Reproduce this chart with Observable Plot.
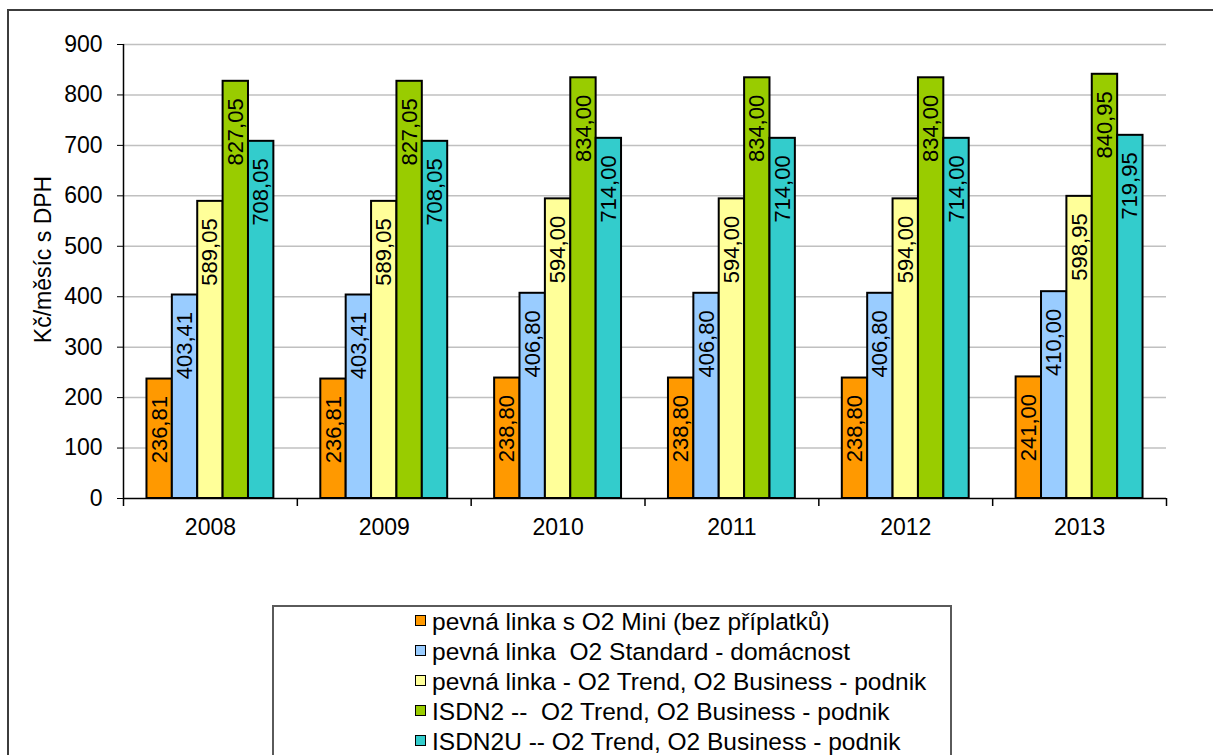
<!DOCTYPE html>
<html><head><meta charset="utf-8">
<script src="https://cdn.jsdelivr.net/npm/d3@7"></script>
<script src="https://cdn.jsdelivr.net/npm/@observablehq/plot@0.6"></script>
<style>
body{margin:0;background:#fff;font-family:"Liberation Sans",Arial,sans-serif;}
#wrap{position:relative;width:1213px;height:755px;overflow:hidden;background:#fff;}
#border{position:absolute;left:7px;top:9px;width:1300px;height:900px;border:2px solid #3c3c3c;}
#chart{position:absolute;left:0;top:0;}
#legend{position:absolute;left:272px;top:605px;width:676px;height:200px;border:2px solid #5a5a5a;background:#fff;padding-top:0px;}
.item{height:30px;line-height:30px;padding-left:141px;font-size:24.5px;white-space:pre;color:#000;}
.sw{display:inline-block;width:9px;height:9px;border:1.5px solid #000;margin-right:6px;vertical-align:4px;}
</style></head>
<body><div id="wrap"><div id="border"></div><div id="chart"></div><div id="legend"></div></div>
<script>
const years = ["2008", "2009", "2010", "2011", "2012", "2013"];
const seriesNames = [
  "pevná linka s O2 Mini (bez příplatků)",
  "pevná linka  O2 Standard - domácnost",
  "pevná linka - O2 Trend, O2 Business - podnik",
  "ISDN2 --  O2 Trend, O2 Business - podnik",
  "ISDN2U -- O2 Trend, O2 Business - podnik"
];
const seriesColors = ["#FF9900", "#99CCFF", "#FFFF99", "#99CC00", "#33CCCC"];
const mini     = [236.81, 236.81, 238.80, 238.80, 238.80, 241.00];
const standard = [403.41, 403.41, 406.80, 406.80, 406.80, 410.00];
const trend    = [589.05, 589.05, 594.00, 594.00, 594.00, 598.95];
const isdn2    = [827.05, 827.05, 834.00, 834.00, 834.00, 840.95];
const isdn2u   = [708.05, 708.05, 714.00, 714.00, 714.00, 719.95];
const seriesValues = [mini, standard, trend, isdn2, isdn2u];
const yTicks = [0, 100, 200, 300, 400, 500, 600, 700, 800, 900];
const yTitle = "Kč/měsíc s DPH";

const fmt = v => v.toFixed(2).replace(".", ",");
const groupFill = 0.73;
const barW = groupFill / seriesNames.length;
const rows = [];
seriesValues.forEach((vals, s) => vals.forEach((v, i) => {
  const x1 = i - groupFill / 2 + s * barW;
  rows.push({year: years[i], series: seriesNames[s], value: v, x1, x2: x1 + barW, xm: x1 + barW / 2});
}));
const boundaries = d3.range(years.length + 1).map(i => i - 0.5);

const plot = Plot.plot({
  width: 1213, height: 600,
  marginTop: 44, marginBottom: 102, marginLeft: 123, marginRight: 47,
  style: {fontFamily: "Liberation Sans, Arial, sans-serif", fontSize: "23px", color: "#000", background: "transparent", overflow: "visible"},
  x: {domain: [-0.5, years.length - 0.5], ticks: d3.range(years.length), tickFormat: i => years[i], tickSize: 0, tickPadding: 20, label: null},
  y: {domain: [0, 900], ticks: yTicks, tickSize: 6, tickPadding: 15, label: null},
  color: {domain: seriesNames, range: seriesColors},
  marks: [
    Plot.ruleY(yTicks.slice(1), {stroke: "#c0c0c0", strokeWidth: 1.5}),
    Plot.rect(rows, {x1: "x1", x2: "x2", y1: 0, y2: "value", fill: "series", stroke: "#000", strokeWidth: 2}),
    Plot.text(rows, {x: "xm", y: "value", text: d => fmt(d.value), rotate: -90, textAnchor: "end", lineAnchor: "middle", dy: 17, fontSize: 22, fill: "#000"}),
    Plot.ruleX([-0.5], {stroke: "#000", strokeWidth: 1.5}),
    Plot.ruleY([0], {stroke: "#000", strokeWidth: 1.5}),
    Plot.ruleX(boundaries, {y1: 0, y2: 0, insetBottom: -8, stroke: "#000", strokeWidth: 1.5}),
    Plot.text([yTitle], {text: d => d, frameAnchor: "left", textAnchor: "middle", dx: -80, dy: -12, rotate: -90, fontSize: 23, fill: "#000"})
  ]
});
document.getElementById("chart").appendChild(plot);

const legend = document.getElementById("legend");
seriesNames.forEach((name, i) => {
  const row = document.createElement("div");
  row.className = "item";
  const sw = document.createElement("span");
  sw.className = "sw";
  sw.style.background = seriesColors[i];
  row.appendChild(sw);
  row.appendChild(document.createTextNode(name));
  legend.appendChild(row);
});
</script></body></html>
